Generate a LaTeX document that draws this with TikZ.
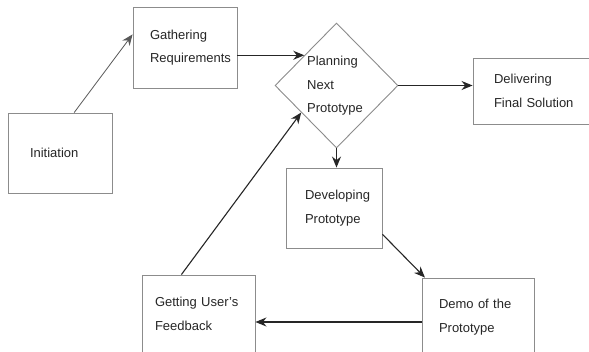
\documentclass[tikz,border=0pt]{standalone}
\usepackage{fontspec}
\setmainfont{Liberation Sans}
\usetikzlibrary{shapes.geometric,arrows.meta,calc}
\begin{document}
\begin{tikzpicture}[x=1pt,y=-1pt,
  box/.style={draw=black!45, line width=0.9pt, rectangle, align=left, inner ysep=0pt,
    font=\fontsize{13}{23.5}\selectfont, text=black!85},
  conn/.style={draw=black!85, line width=1.1pt, -{Stealth[length=11pt,width=9pt]}},
  thinconn/.style={draw=black!65, line width=0.8pt, -{Stealth[length=11pt,width=9pt]}}]
\useasboundingbox (0,0) rectangle (589,351);
\clip (0,0) rectangle (589,351);
\fill[white] (0,0) rectangle (589,351);
% boxes
\node[box, minimum width=104pt, minimum height=80pt, inner xsep=22pt, text width=60pt] (init) at (60,153) {Initiation};
\node[box, minimum width=104pt, minimum height=81pt, inner xsep=17pt, text width=70pt] (gather) at (185,47.5) {Gathering\\Requirements};
\node[box, minimum width=122pt, minimum height=66pt, inner xsep=21pt, text width=80pt] (deliver) at (534,91) {Delivering\\Final Solution};
\node[box, minimum width=96pt, minimum height=80pt, inner xsep=19pt, text width=58pt] (dev) at (334,208) {Developing\\Prototype};
\node[box, minimum width=112pt, minimum height=78pt, inner xsep=17pt, text width=78pt] (demo) at (478,317) {Demo of the\\Prototype};
\node[box, minimum width=113pt, minimum height=78pt, inner xsep=13pt, text width=87pt] (feed) at (198.5,314) {Getting User's\\Feedback};
% diamond
\node[draw=black!45, line width=0.9pt, diamond, minimum width=123pt, minimum height=125pt, inner sep=0pt] (plan) at (336.5,85.5) {};
\node[align=left, inner sep=0pt, font=\fontsize{13}{23.5}\selectfont, text=black!85] (plantext) at (335,86) {Planning\\Next\\Prototype};
% helper coordinates
\path (plan.north) -- (plan.west) coordinate[pos=0.52] (pinA);
\path (plan.west) -- (plan.south) coordinate[pos=0.43] (pinB);
\coordinate (initout) at ($(init.north west)!0.635!(init.north east)$);
\coordinate (gatherin) at ($(gather.north west)!0.34!(gather.south west)$);
\coordinate (feedout) at ($(feed.north west)!0.35!(feed.north east)$);
\coordinate (devout) at ($(dev.north east)!0.825!(dev.south east)$);
\coordinate (demoin) at ($(demo.north west)!0.03!(demo.north east)$);
% connectors
\draw[thinconn] (initout) -- (gatherin);
\draw[conn] (pinA -| gather.east) -- (pinA);
\draw[conn] (plan.east) -- (plan.east -| deliver.west);
\draw[conn] (plan.south) -- (plan.south |- dev.north);
\draw[conn] (devout) -- (demoin);
\draw[conn] (demo.west |- 0,322) -- (feed.east |- 0,322);
\draw[conn] (feedout) -- (pinB);
\end{tikzpicture}
\end{document}
